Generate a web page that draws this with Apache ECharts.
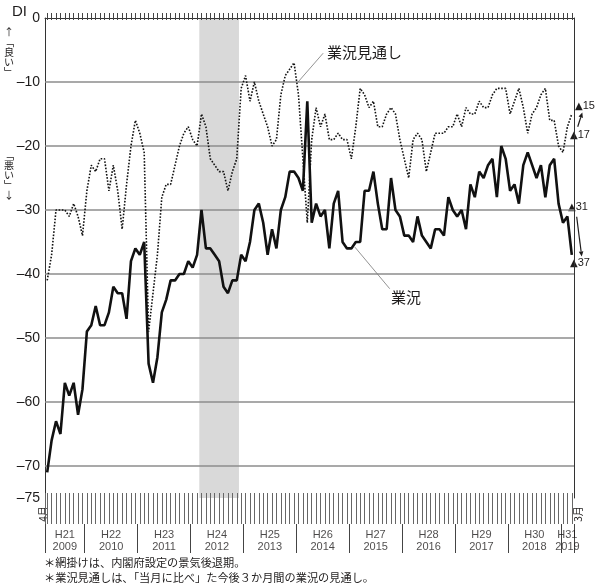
<!DOCTYPE html>
<html>
<head>
<meta charset="utf-8">
<script src="https://cdn.jsdelivr.net/npm/echarts@6/dist/echarts.min.js"></script>
<style>
html, body { margin: 0; padding: 0; background: #fff; }
#di-chart { width: 600px; height: 585px; }
</style>
</head>
<body>
<div id="di-chart"></div>
<script>
// 期間：2009年4月 ～ 2019年3月（月次）
const eras = ['H21', 'H22', 'H23', 'H24', 'H25', 'H26', 'H27', 'H28', 'H29', 'H30', 'H31'];
const years = [2009, 2010, 2011, 2012, 2013, 2014, 2015, 2016, 2017, 2018, 2019];

// 業況DI
const condition = [
  -71, -66, -63, -65, -57, -59, -57, -62, -58,
  -49, -48, -45, -48, -48, -46, -42, -43, -43, -47, -38, -36, -37, -35,
  -54, -57, -53, -46, -44, -41, -41, -40, -40, -38, -39, -37,
  -30, -36, -36, -37, -38, -42, -43, -41, -41, -37, -38, -35,
  -30, -29, -32, -37, -33, -36, -30, -28, -24, -24, -25, -27,
  -13, -32, -29, -31, -30, -36, -29, -27, -35, -36, -36, -35,
  -35, -27, -27, -24, -29, -33, -33, -25, -30, -31, -34, -34,
  -35, -31, -34, -35, -36, -33, -33, -34, -28, -30, -31, -30,
  -33, -26, -28, -24, -25, -23, -22, -28, -20, -22, -27, -26,
  -29, -23, -21, -23, -25, -23, -28, -23, -22, -29,
  -32, -31, -37
];

// 業況見通しDI
const outlook = [
  -41, -37, -30, -30, -30, -31, -29, -31, -34,
  -27, -23, -24, -22, -22, -27, -23, -27, -33, -26, -20, -16, -18, -21,
  -49, -43, -37, -28, -26, -26, -23, -20, -18, -17, -19, -20,
  -15, -17, -22, -23, -24, -24, -27, -24, -22, -11, -9, -13,
  -10, -13, -15, -17, -20, -19, -12, -9, -8, -7, -12, -22,
  -32, -19, -14, -17, -15, -19, -19, -18, -19, -19, -22, -17,
  -11, -12, -14, -13, -17, -17, -15, -14, -15, -19, -22, -25,
  -19, -18, -19, -24, -21, -18, -18, -18, -17, -17, -15, -17,
  -14, -15, -15, -13, -14, -14, -12, -11, -11, -11, -15, -13,
  -11, -14, -18, -15, -14, -12, -11, -16, -16, -20,
  -21, -17, -15
];

const gridValues = [-10, -20, -30, -40, -50, -60, -70];
const recession = ['2012-03', '2012-11'];
const notes = [
  '＊網掛けは、内閣府設定の景気後退期。',
  '＊業況見通しは、「当月に比べ」た今後３か月間の業況の見通し。'
];

let months = [];
years.forEach(function (y) {
  for (let m = 1; m <= 12; m++) {
    if ((y === 2009 && m < 4) || (y === 2019 && m > 3)) continue;
    months.push(y + '-' + String(m).padStart(2, '0'));
  }
});
const N = months.length;

// 年の区切りと年ラベル（月数の軸 0〜N 上）
let yearBounds = [0];
let yearLabels = [];
years.forEach(function (y, k) {
  let idx = [];
  months.forEach(function (mm, i) { if (mm.indexOf(y + '-') === 0) idx.push(i); });
  let s = idx[0], e = idx[idx.length - 1] + 1;
  yearBounds.push(e);
  yearLabels.push({ value: [(s + e) / 2, 0.43], era: eras[k], year: y, narrow: idx.length < 6 });
});

const font = 'Liberation Sans, Arial, sans-serif';
const jpFont = 'Noto Sans CJK JP, sans-serif';
const ink = '#1e1c1c';

function arrow(x1, y1, x2, y2) {
  let a = Math.atan2(y2 - y1, x2 - x1), L = 5, W = 2.3;
  let bx = x2 - L * Math.cos(a), by = y2 - L * Math.sin(a);
  return [
    { type: 'line', shape: { x1: x1, y1: y1, x2: bx, y2: by }, style: { stroke: ink, lineWidth: 1.2 } },
    { type: 'polygon', shape: { points: [[x2, y2], [bx + W * Math.sin(a), by - W * Math.cos(a)], [bx - W * Math.sin(a), by + W * Math.cos(a)]] }, style: { fill: ink } }
  ];
}

function txt(x, y, text, size, family, extra) {
  return {
    type: 'text', x: x, y: y, silent: true,
    style: Object.assign({ text: text, fill: ink, font: size + 'px ' + family, textVerticalAlign: 'middle' }, extra || {})
  };
}

// ▲付きの数値ラベル
function tri(x, y, num) {
  return txt(x, y, '{t|▲}{d|' + num + '}', 11, font, {
    rich: {
      t: { fontFamily: 'DejaVu Sans', fontSize: 10, fill: ink },
      d: { fontFamily: font, fontSize: 11, fill: ink }
    }
  });
}

function hiddenX(gi) {
  return { type: 'value', gridIndex: gi, min: 0, max: N, show: false };
}
function hiddenY(gi) {
  return { type: 'value', gridIndex: gi, min: 0, max: 1, show: false };
}
function vlines(values, color, width) {
  return {
    silent: true, symbol: 'none', animation: false, z: 1,
    label: { show: false },
    lineStyle: { color: color, width: width, type: 'solid' },
    data: values.map(function (v) { return { xAxis: v }; })
  };
}

const monthCenters = months.map(function (m, i) { return i + 0.5; });

let myChart = echarts.init(document.getElementById('di-chart'));

let option = {
  animation: false,
  backgroundColor: '#fff',
  textStyle: { fontFamily: font, color: ink },
  grid: [
    { left: 45, right: 26, top: 18, height: 480 },   // 本体
    { left: 45, right: 26, top: 493, height: 31 },   // 月目盛り
    { left: 45, right: 26, top: 524, height: 29 },   // 年
    { left: 45, right: 26, top: 13, height: 7 }      // 上端の目盛り
  ],
  xAxis: [
    {
      type: 'category', gridIndex: 0, data: months, position: 'top',
      axisLine: { show: true, lineStyle: { color: '#333', width: 1 } },
      axisTick: { show: false },
      axisLabel: { show: false }
    },
    hiddenX(0), hiddenX(1), hiddenX(2), hiddenX(3)
  ],
  yAxis: [
    {
      type: 'value', gridIndex: 0, min: -75, max: 0, interval: 5,
      axisLine: { show: true, lineStyle: { color: '#333', width: 1 } },
      axisTick: { show: false },
      splitLine: { show: false },
      axisLabel: {
        margin: 5, fontSize: 14, color: ink, fontFamily: font,
        formatter: function (v) {
          if (v % 10 !== 0 && v !== -75) return '';
          return v < 0 ? '–' + (-v) : String(v);
        }
      }
    },
    {
      type: 'value', gridIndex: 0, min: -75, max: 0, position: 'right',
      axisLine: { show: true, lineStyle: { color: '#333', width: 1 } },
      axisTick: { show: false }, axisLabel: { show: false }, splitLine: { show: false }
    },
    hiddenY(1), hiddenY(2), hiddenY(3)
  ],
  series: [
    {
      name: 'guide', type: 'line', xAxisIndex: 1, yAxisIndex: 0, data: [], silent: true, z: 1,
      markArea: {
        silent: true, z: 0,
        itemStyle: { color: '#d9d9d9' },
        data: [[{ xAxis: months.indexOf(recession[0]) }, { xAxis: months.indexOf(recession[1]) + 1 }]]
      },
      markLine: {
        silent: true, z: 1, symbol: 'none', animation: false,
        label: { show: false },
        lineStyle: { color: '#8c8c8c', width: 1.5, type: 'solid' },
        data: gridValues.map(function (v) { return { yAxis: v }; })
      }
    },
    {
      name: 'leader', type: 'line', xAxisIndex: 1, yAxisIndex: 0, data: [], silent: true, z: 2,
      markLine: {
        silent: true, z: 2, symbol: 'none', animation: false,
        label: { show: false },
        lineStyle: { color: '#777', width: 0.8, type: 'solid' },
        data: [
          [{ coord: [57.4, -10] }, { coord: [63.1, -5.5] }],
          [{ coord: [70.3, -35.8] }, { coord: [78.2, -42.3] }]
        ]
      }
    },
    {
      name: '業況見通し', type: 'line', xAxisIndex: 0, yAxisIndex: 0, data: outlook,
      symbol: 'none', z: 3,
      lineStyle: { color: '#111', width: 1.6, type: 'dotted' }
    },
    {
      name: '業況', type: 'line', xAxisIndex: 0, yAxisIndex: 0, data: condition,
      symbol: 'none', z: 4,
      lineStyle: { color: '#111', width: 2.6 }
    },
    {
      // 月目盛り
      name: 'monthTicks', type: 'line', xAxisIndex: 2, yAxisIndex: 2, data: [], silent: true,
      markLine: vlines([0].concat(monthCenters), '#666', 1)
    },
    {
      // 上端の目盛り
      name: 'topTicks', type: 'line', xAxisIndex: 4, yAxisIndex: 4, data: [], silent: true,
      markLine: vlines(monthCenters, '#444', 1)
    },
    {
      // 年の区切りとラベル
      name: 'years', type: 'scatter', xAxisIndex: 3, yAxisIndex: 3, silent: true,
      symbolSize: 0,
      data: yearLabels,
      label: {
        show: true, position: 'inside',
        formatter: function (p) {
          let s = p.data.narrow ? 'n' : 'c';
          return '{' + s + '|' + p.data.era + '}\n{' + s + '|' + p.data.year + '}';
        },
        rich: {
          c: { fontSize: 11, lineHeight: 12, fontFamily: font, color: ink },
          n: { fontSize: 11, lineHeight: 12, fontFamily: 'Liberation Sans Narrow, ' + font, color: ink }
        }
      },
      markLine: vlines(yearBounds, '#444', 1)
    }
  ],
  graphic: [
    txt(12, 12, 'DI', 15, font),
    txt(9, 52, '↑\n﹁\n良\nい\n﹂', 10, jpFont, { textAlign: 'center', lineHeight: 10 }),
    txt(9, 175, '﹁\n悪\nい\n﹂\n↓', 10, jpFont, { textAlign: 'center', lineHeight: 10 }),
    txt(327, 52, '業況見通し', 15, jpFont),
    txt(391, 297, '業況', 15, jpFont),
    tri(575, 106, 15),
    tri(570, 135, 17),
    tri(568, 207, 31),
    tri(570, 263, 37),
    Object.assign(txt(43, 514, '4月', 10, jpFont, { textAlign: 'center' }), { rotation: Math.PI / 2 }),
    Object.assign(txt(578, 514, '3月', 10, jpFont, { textAlign: 'center' }), { rotation: Math.PI / 2 }),
    txt(44, 563, notes[0], 11.2, jpFont),
    txt(44, 578, notes[1], 11.2, jpFont)
  ].concat(arrow(577.7, 126.7, 582.3, 112.5), arrow(576.7, 216.7, 581.7, 256.5))
};

myChart.setOption(option);

window.addEventListener('resize', function () {
  myChart.resize();
});
</script>
</body>
</html>
